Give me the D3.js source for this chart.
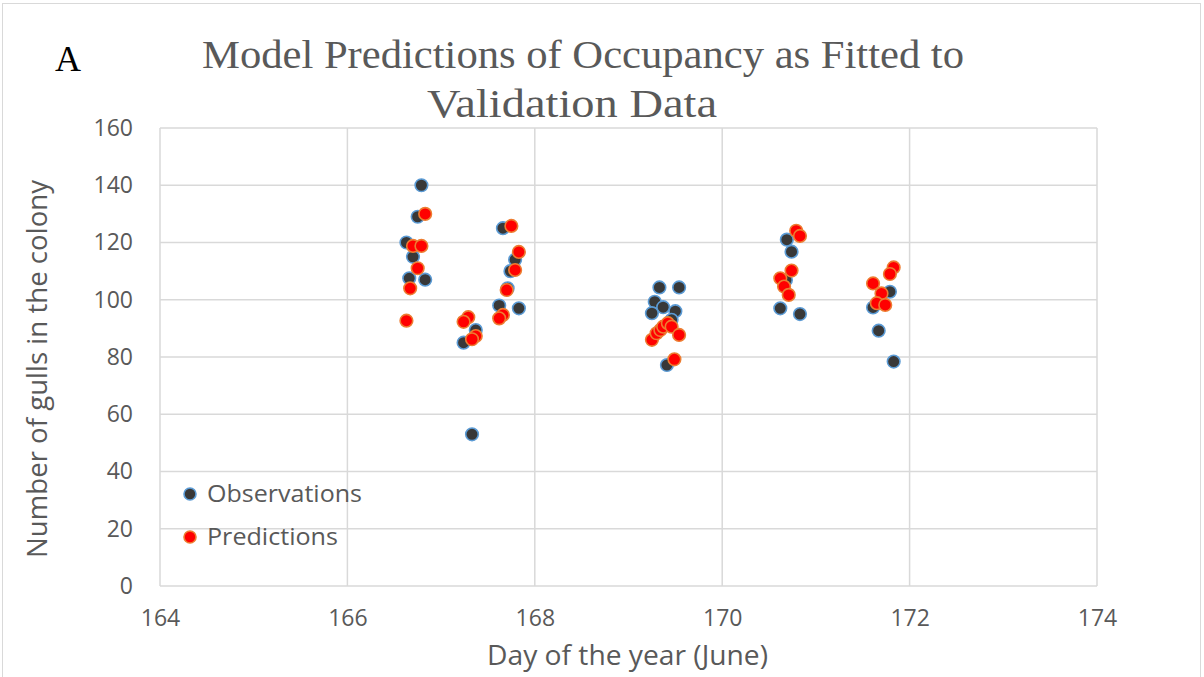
<!DOCTYPE html>
<html lang="en">
<head>
<meta charset="UTF-8">
<title>Model Predictions of Occupancy</title>
<script src="https://d3js.org/d3.v7.min.js"></script>
<style>
  body { margin: 0; background: #fff; }
  svg { display: block; }
</style>
</head>
<body>
<svg width="1204" height="677"></svg>
<script>
// Observations: [day, count]
const observations = [
  [166.79, 140], [166.75, 129], [166.63, 120], [166.70, 115], [166.66, 107.5], [166.83, 107],
  [167.66, 125], [167.79, 114], [167.74, 110], [167.71, 104], [167.62, 98], [167.83, 97],
  [167.24, 85], [167.37, 89.4], [167.33, 53],
  [169.33, 104.3], [169.54, 104.3], [169.28, 99.3], [169.37, 97.4], [169.25, 95.3],
  [169.50, 96], [169.46, 93], [169.41, 77.2],
  [170.69, 121], [170.74, 116.8], [170.68, 106.9], [170.62, 97], [170.83, 95],
  [171.79, 102.8], [171.61, 97.3], [171.67, 89.2], [171.83, 78.4]
];
// Predictions: [day, count]
const predictions = [
  [166.83, 130], [166.70, 118.8], [166.79, 118.8], [166.75, 111], [166.67, 104], [166.63, 92.7],
  [167.75, 125.8], [167.83, 116.7], [167.79, 110.4], [167.70, 103.4], [167.66, 94.7], [167.62, 93.5],
  [167.29, 93.9], [167.24, 92.3], [167.37, 87.3], [167.33, 86.2],
  [169.25, 86], [169.30, 88.3], [169.34, 89.4], [169.37, 90.6], [169.42, 91.8], [169.46, 90.6],
  [169.54, 87.7], [169.49, 79.2],
  [170.79, 124.1], [170.83, 122.3], [170.74, 110.2], [170.62, 107.5], [170.66, 104.6], [170.71, 101.7],
  [171.83, 111.3], [171.79, 109], [171.61, 105.7], [171.70, 102.2], [171.65, 98.8], [171.74, 98.2]
];
const xTicks = [164, 166, 168, 170, 172, 174];
const yTicks = [0, 20, 40, 60, 80, 100, 120, 140, 160];
const seriesNames = ["Observations", "Predictions"];

const svg = d3.select("svg");
const sans = "'Open Sans', Lato, sans-serif";
const serif = "'Liberation Serif', 'DejaVu Serif', serif";
const grey = "#595959";

// outer chart frame
svg.append("rect")
  .attr("x", 2.5).attr("y", 3.5)
  .attr("width", 1198).attr("height", 680)
  .attr("fill", "none").attr("stroke", "#d9d9d9");

const x = d3.scaleLinear().domain([164, 174]).range([160, 1097]);
const y = d3.scaleLinear().domain([0, 160]).range([586, 128]);

// gridlines
svg.append("g").selectAll("line").data(yTicks).join("line")
  .attr("x1", x(164)).attr("x2", x(174))
  .attr("y1", d => y(d)).attr("y2", d => y(d))
  .attr("stroke", "#d9d9d9").attr("stroke-width", 1.5);
svg.append("g").selectAll("line").data(xTicks).join("line")
  .attr("x1", d => x(d)).attr("x2", d => x(d))
  .attr("y1", y(0)).attr("y2", y(160))
  .attr("stroke", "#d9d9d9").attr("stroke-width", 1.5);

// axes (labels only)
const xAxis = svg.append("g")
  .attr("transform", `translate(0,${y(0)})`)
  .call(d3.axisBottom(x).tickValues(xTicks).tickSize(0).tickPadding(33));
const yAxis = svg.append("g")
  .attr("transform", `translate(${x(164)},0)`)
  .call(d3.axisLeft(y).tickValues(yTicks).tickSize(0).tickPadding(27));
[xAxis, yAxis].forEach(g => {
  g.select(".domain").remove();
  g.selectAll("text").attr("fill", grey).style("font-size", "23px").style("font-family", sans);
});
xAxis.selectAll("text").attr("dy", "0.3em");

// points
function drawSeries(data, fill, stroke) {
  svg.append("g").selectAll("circle").data(data).join("circle")
    .attr("cx", d => x(d[0])).attr("cy", d => y(d[1]))
    .attr("r", 6.3)
    .attr("fill", fill).attr("stroke", stroke).attr("stroke-width", 1.6);
}
drawSeries(observations, "#383838", "#5b9bd5");
drawSeries(predictions, "#ff0000", "#ed7d31");

// titles
svg.append("text").attr("x", 55).attr("y", 71)
  .text("A").style("font-family", serif).style("font-size", "36px").attr("fill", "#000");
const title = svg.append("text")
  .style("font-family", serif).style("font-size", "40px").attr("fill", grey);
title.append("tspan").attr("x", 202).attr("y", 68)
  .attr("textLength", 762).attr("lengthAdjust", "spacingAndGlyphs")
  .text("Model Predictions of Occupancy as Fitted to");
title.append("tspan").attr("x", 427).attr("y", 117)
  .attr("textLength", 290).attr("lengthAdjust", "spacingAndGlyphs")
  .text("Validation Data");

svg.append("text").attr("x", 487).attr("y", 665)
  .attr("textLength", 281).attr("lengthAdjust", "spacingAndGlyphs")
  .text("Day of the year (June)")
  .style("font-family", sans).style("font-size", "27px").attr("fill", grey);
svg.append("text")
  .attr("transform", "translate(47,558) rotate(-90)")
  .attr("textLength", 378).attr("lengthAdjust", "spacingAndGlyphs")
  .text("Number of gulls in the colony")
  .style("font-family", sans).style("font-size", "27px").attr("fill", grey);

// legend
const legend = svg.append("g");
const legendStyles = [["#383838", "#5b9bd5"], ["#ff0000", "#ed7d31"]];
const legendWidths = [155, 131];
seriesNames.forEach((name, i) => {
  const ly = 494 + i * 43;
  legend.append("circle").attr("cx", 190).attr("cy", ly).attr("r", 6)
    .attr("fill", legendStyles[i][0]).attr("stroke", legendStyles[i][1]).attr("stroke-width", 1.6);
  legend.append("text").attr("x", 207).attr("y", ly + 8)
    .attr("textLength", legendWidths[i]).attr("lengthAdjust", "spacingAndGlyphs")
    .text(name)
    .style("font-family", sans).style("font-size", "23px").attr("fill", grey);
});
</script>
</body>
</html>
